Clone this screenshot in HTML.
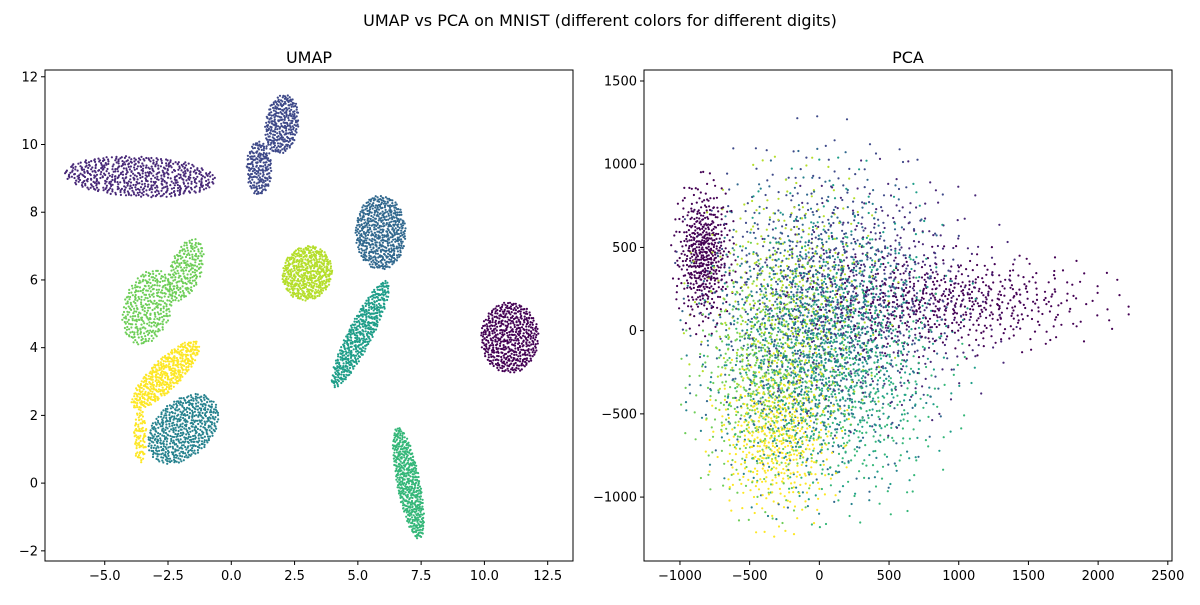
<!DOCTYPE html>
<html><head><meta charset="utf-8"><style>
body{margin:0;background:#fff;font-family:"Liberation Sans","DejaVu Sans",sans-serif}
svg text{font-family:"DejaVu Sans","Liberation Sans",sans-serif}
</style></head><body>
<svg id="fig" width="1200" height="600" xmlns="http://www.w3.org/2000/svg">
<rect width="1200" height="600" fill="#fff"/>
<text x="600" y="26" font-size="16" text-anchor="middle">UMAP vs PCA on MNIST (different colors for different digits)</text>
<g id="left"></g>
<g id="right"></g>
</svg>
<script>
// Viridis colour per digit
const digitColors = ["#440154","#482878","#3e4989","#31688e","#26828e","#1f9e89","#35b779","#6ece58","#b5de2b","#fde725"];
// UMAP cluster estimates
const umapDigit = [0,1,2,2,3,4,5,6,7,7,8,9,9];
const umapCx = [11.0,-3.6,2.0,1.1,5.9,-1.9,5.1,7.0,-3.3,-1.8,3.0,-2.6,-3.6];
const umapCy = [4.3,9.05,10.6,9.3,7.4,1.6,4.4,0.0,5.2,6.3,6.2,3.2,1.4];
const umapRx = [1.15,3.0,0.65,0.5,1.0,1.5,0.45,0.45,0.9,0.6,1.0,0.5,0.25];
const umapRy = [1.05,0.6,0.9,0.8,1.1,0.9,1.9,1.7,1.2,1.0,0.8,1.6,0.8];
const umapAng = [0,-2,-15,0,0,25,-35,15,-35,-30,10,-55,0];
const umapN = [520,600,300,200,560,560,500,520,350,220,520,480,90];
// PCA cluster estimates
const pcaDigit = [0,0,1,2,3,4,5,6,7,8,9];
const pcaCx = [-830,1000,450,0,0,-100,150,200,-400,-200,-300];
const pcaCy = [460,170,200,300,0,-120,0,-320,-320,120,-640];
const pcaSx = [90,480,380,400,380,350,380,330,230,300,200];
const pcaSy = [190,130,320,380,420,400,400,340,330,360,230];
const pcaN = [520,520,500,500,550,550,550,500,500,520,480];
// Axis ticks
const umapXTicks = [-5.0,-2.5,0.0,2.5,5.0,7.5,10.0,12.5];
const umapYTicks = [-2,0,2,4,6,8,10,12];
const pcaXTicks = [-1000,-500,0,500,1000,1500,2000,2500];
const pcaYTicks = [-1000,-500,0,500,1000,1500];

const NS="http://www.w3.org/2000/svg";
function el(tag,attrs,parent){const e=document.createElementNS(NS,tag);for(const k in attrs)e.setAttribute(k,attrs[k]);parent.appendChild(e);return e;}
function halton(i,b){let f=1,r=0;while(i>0){f/=b;r+=f*(i%b);i=Math.floor(i/b);}return r;}

function panel(g,box,xr,yr,title,xt,yt,fmtX,fmtY,pts,name){
  const sx=v=>box.x+(v-xr[0])/(xr[1]-xr[0])*box.w;
  const sy=v=>box.y+box.h-(v-yr[0])/(yr[1]-yr[0])*box.h;
  const t=el('text',{x:box.x+box.w/2,y:box.y-7,'font-size':16,'text-anchor':'middle'},g);t.textContent=title;
  
  
  const pg=el('g',{},g);
  
  
  pts.forEach(p=>{const x=sx(p[0]),y=sy(p[1]);if(x<box.x||x>box.x+box.w||y<box.y||y>box.y+box.h)return;
    const c=el('circle',{cx:x.toFixed(1),cy:y.toFixed(1),r:1.1,fill:digitColors[p[2]]},pg);
    
    });
  const fr=el('rect',{x:box.x,y:box.y,width:box.w,height:box.h,fill:'none',stroke:'#000','stroke-width':1},g);
  
  
  xt.forEach(v=>{const x=sx(v);el('line',{x1:x,x2:x,y1:box.y+box.h,y2:box.y+box.h+4,stroke:'#000'},g);
    const tx=el('text',{x:x,y:box.y+box.h+19,'font-size':13,'text-anchor':'middle'},g);tx.textContent=fmtX(v);
    
    });
  yt.forEach(v=>{const y=sy(v);el('line',{x1:box.x-4,x2:box.x,y1:y,y2:y,stroke:'#000'},g);
    const ty=el('text',{x:box.x-7,y:y+4.5,'font-size':13,'text-anchor':'end'},g);ty.textContent=fmtY(v);
    
    });
}
const minus=s=>s.replace('-','\u2212');
let clusters=[];
for(let k=0;k<umapDigit.length;k++){const a=umapAng[k]*Math.PI/180,arr=[];
  for(let i=1;i<=umapN[k];i++){const r=Math.sqrt(halton(i+k*37,2)),th=2*Math.PI*halton(i+k*37,3);
    const u=r*Math.cos(th)*umapRx[k],v=r*Math.sin(th)*umapRy[k];
    arr.push([umapCx[k]+u*Math.cos(a)-v*Math.sin(a),umapCy[k]+u*Math.sin(a)+v*Math.cos(a),umapDigit[k]]);}
  clusters.push(arr);}
let up=[];for(let i=0;i<700;i++)clusters.forEach(c=>{if(c[i])up.push(c[i]);});
panel(document.getElementById('left'),{x:45,y:70,w:528,h:491},[-7.36,13.5],[-2.3,12.2],'UMAP',umapXTicks,umapYTicks,v=>minus(v.toFixed(1)),v=>minus(String(v)),up,'umap');
clusters=[];
for(let k=0;k<pcaDigit.length;k++){const arr=[];
  for(let i=1;i<=pcaN[k];i++){const u1=Math.max(halton(i+k*53,2),0.02),u2=halton(i+k*53,3);
    const r=Math.min(Math.sqrt(-2*Math.log(u1)),2.6);
    arr.push([pcaCx[k]+r*Math.cos(2*Math.PI*u2)*pcaSx[k],pcaCy[k]+r*Math.sin(2*Math.PI*u2)*pcaSy[k],pcaDigit[k]]);}
  clusters.push(arr);}
let pp=[];for(let i=0;i<600;i++)clusters.forEach(c=>{if(c[i])pp.push(c[i]);});
panel(document.getElementById('right'),{x:644,y:70,w:528,h:491},[-1258,2530],[-1384,1566],'PCA',pcaXTicks,pcaYTicks,v=>minus(String(v)),v=>minus(String(v)),pp,'pca');
</script>
</body></html>
